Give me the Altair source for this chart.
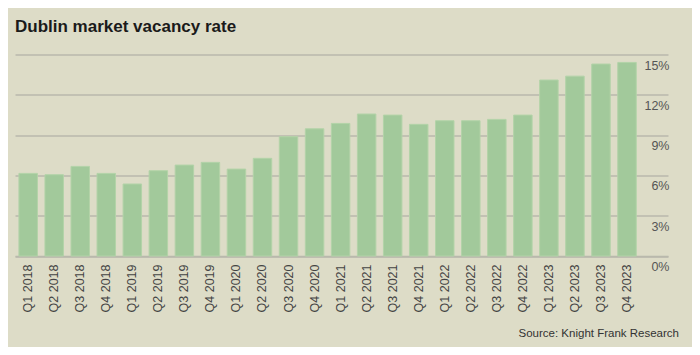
import altair as alt
import pandas as pd

quarters = [
    "Q1 2018", "Q2 2018", "Q3 2018", "Q4 2018",
    "Q1 2019", "Q2 2019", "Q3 2019", "Q4 2019",
    "Q1 2020", "Q2 2020", "Q3 2020", "Q4 2020",
    "Q1 2021", "Q2 2021", "Q3 2021", "Q4 2021",
    "Q1 2022", "Q2 2022", "Q3 2022", "Q4 2022",
    "Q1 2023", "Q2 2023", "Q3 2023", "Q4 2023",
]
vacancy = [
    6.15, 6.05, 6.67, 6.15,
    5.36, 6.35, 6.77, 6.97,
    6.47, 7.27, 8.88, 9.47,
    9.87, 10.57, 10.49, 9.80,
    10.07, 10.07, 10.17, 10.49,
    13.10, 13.39, 14.29, 14.41,
]
y_ticks = [0, 3, 6, 9, 12, 15]
title_text = "Dublin market vacancy rate"
source_text = ["Source: Knight Frank Research"]

df = pd.DataFrame({"quarter": quarters, "vacancy": vacancy})
src = pd.DataFrame({"t": source_text})

BG = "#dddcc7"
GRID = "#b9b9ac"
FONT = "Liberation Sans"

bars = alt.Chart(df).mark_bar(color="#a2c99b", stroke="#b3d3a8", strokeWidth=1).encode(
    x=alt.X(
        "quarter:N",
        sort=quarters,
        scale=alt.Scale(paddingInner=0.29, paddingOuter=0.685, align=0.11),
        axis=alt.Axis(
            title=None, labelAngle=270, labelPadding=8, ticks=False, tickSize=0,
            domain=True, domainColor=GRID, domainWidth=1.5,
            labelFont=FONT, labelFontSize=12.5, labelColor="#444444",
        ),
    ),
    y=alt.Y(
        "vacancy:Q",
        scale=alt.Scale(domain=[0, 15], nice=False, zero=True),
        axis=alt.Axis(
            title=None, orient="right", values=y_ticks, labelExpr="datum.value + '%'",
            grid=True, gridColor=GRID, gridWidth=1.5, domain=False, ticks=False, tickSize=0,
            labelAlign="right", labelPadding=1, labelOffset=10.5, labelBaseline="middle",
            labelFont=FONT, labelFontSize=12.5, labelColor="#555555",
        ),
    ),
)

source = alt.Chart(src).mark_text(
    align="right", baseline="middle", font=FONT, fontSize=11.5, color="#333333"
).encode(
    text="t:N",
    x=alt.value(664),
    y=alt.value(279.5),
)

chart = alt.layer(bars, source).properties(
    width=653,
    height=201.5,
    autosize="none",
    padding={"left": 7, "top": 46.5, "right": 24, "bottom": 91},
    background=BG,
    title=alt.TitleParams(
        text=title_text, anchor="start", frame="group", offset=19,
        font=FONT, fontSize=17, fontWeight="bold", color="#1a1a1a",
    ),
).configure_view(stroke=None)

chart.save("out.html", embed_options={"renderer": "svg", "actions": False})
